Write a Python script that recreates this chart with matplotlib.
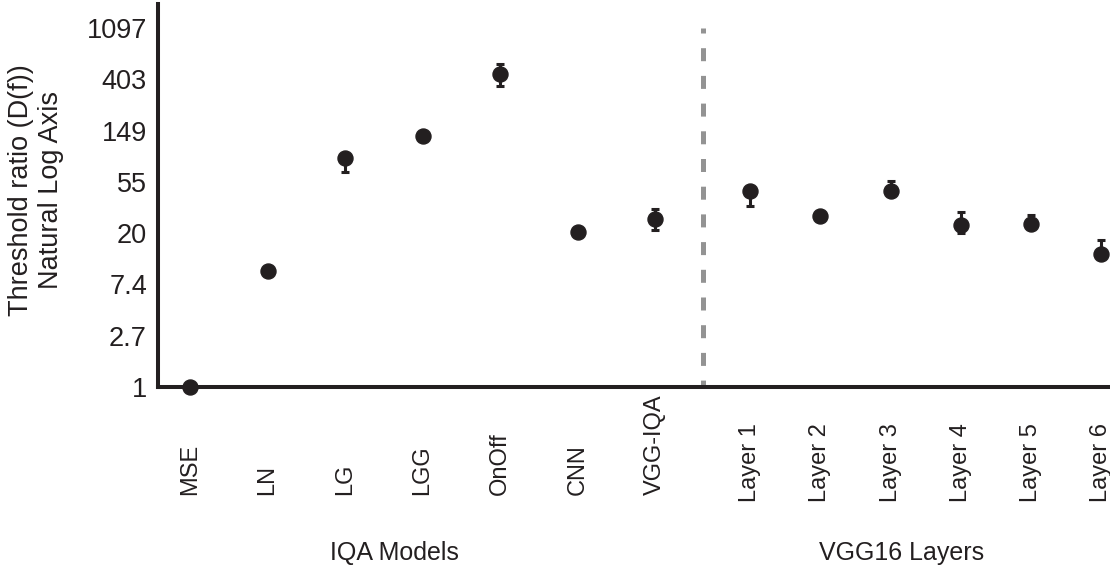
import numpy as np
import matplotlib
matplotlib.use("Agg")
import matplotlib.pyplot as plt
import matplotlib.transforms as mtrans

plt.rcParams['font.family'] = ['Liberation Sans', 'DejaVu Sans']

ink = '#231f20'

# threshold ratios D(f) with lower / upper error bounds
iqa_models = ['MSE', 'LN', 'LG', 'LGG', 'OnOff', 'CNN', 'VGG-IQA']
iqa_ratio = [1.0, 9.6, 87.0, 133.0, 446.0, 20.5, 26.3]
iqa_low = [1.0, 9.3, 66.0, 128.0, 354.0, 19.8, 21.5]
iqa_high = [1.0, 9.9, 92.0, 140.0, 545.0, 21.2, 32.0]

vgg_layers = ['Layer 1', 'Layer 2', 'Layer 3', 'Layer 4', 'Layer 5', 'Layer 6']
vgg_ratio = [45.6, 28.0, 45.6, 23.6, 24.0, 13.5]
vgg_low = [33.8, 27.2, 43.0, 20.0, 22.6, 12.8]
vgg_high = [48.4, 28.8, 55.7, 30.6, 28.8, 17.5]

ytick_vals = np.exp(np.arange(8))
ytick_labels = ['1', '2.7', '7.4', '20', '55', '149', '403', '1097']

# x layout: layer group sits to the right with slightly tighter spacing
x_iqa = np.arange(len(iqa_models), dtype=float)
layer_start, layer_step = 7.226, 0.906
x_vgg = layer_start + layer_step * np.arange(len(vgg_layers))

fig = plt.figure(figsize=(11.1, 5.77), dpi=100)
ax = fig.add_axes([158 / 1110, 1 - 387 / 577, 1 - 158 / 1110, 383 / 577])

def draw(x, val, lo, hi):
    val = np.array(val)
    yerr = [val - np.array(lo), np.array(hi) - val]
    ax.errorbar(x, val, yerr=yerr, fmt='o', color=ink, ms=10.8,
                elinewidth=2.2, capsize=3.0, capthick=2.2, clip_on=False, zorder=3)

draw(x_iqa, iqa_ratio, iqa_low, iqa_high)
draw(x_vgg, vgg_ratio, vgg_low, vgg_high)

# divider between the two groups, drawn top-down
xdiv = (x_iqa[-1] + x_vgg[0]) / 2
ax.plot([xdiv, xdiv], [ytick_vals[-1], ytick_vals[0]], color='#939393', lw=3.6,
        linestyle=(1.6, (2.6, 2.94)), zorder=1, solid_capstyle='butt')

ax.set_yscale('log', base=np.e)
ax.set_ylim(1, np.exp(7.47))
ax.set_xlim(-0.413, 11.87)
ax.set_yticks(ytick_vals)
ax.set_yticklabels(ytick_labels)
ax.yaxis.set_minor_locator(matplotlib.ticker.NullLocator())
ax.tick_params(axis='y', length=0, pad=8, labelsize=19.5, colors=ink)
ax.set_xticks([])

for side in ['top', 'right']:
    ax.spines[side].set_visible(False)
for side in ['left', 'bottom']:
    ax.spines[side].set_linewidth(2.9)
    ax.spines[side].set_color(ink)

trans = mtrans.blended_transform_factory(ax.transData, ax.transAxes)
for x, name in zip(x_iqa, iqa_models):
    ax.text(x, -0.282, name, rotation=90, ha='center', va='bottom',
            fontsize=17, color=ink, transform=trans)
for x, name in zip(x_vgg, vgg_layers):
    ax.text(x, -0.300, name, rotation=90, ha='center', va='bottom',
            fontsize=17, color=ink, transform=trans)

fig.text(394 / 1110, 1 - 553 / 577, 'IQA Models', ha='center', va='center',
         fontsize=18, color=ink)
fig.text(902 / 1110, 1 - 553 / 577, 'VGG16 Layers', ha='center', va='center',
         fontsize=18, color=ink)
fig.text(36.5 / 1110, 1 - 190 / 577, 'Threshold ratio (D(f))\nNatural Log Axis',
         rotation=90, ha='center', va='center', multialignment='center',
         fontsize=19.5, color=ink)

fig.savefig('out.png', dpi=100)
